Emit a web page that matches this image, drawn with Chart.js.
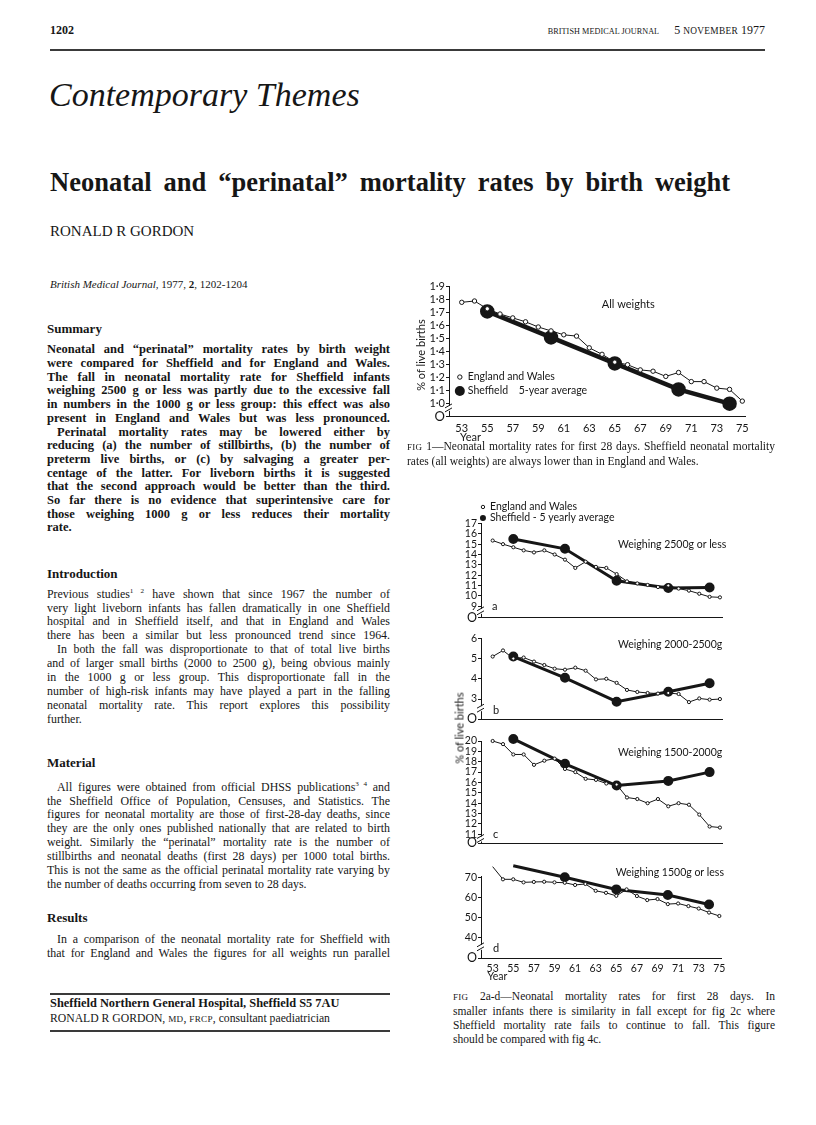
<!DOCTYPE html>
<html>
<head>
<meta charset="utf-8">
<script src="https://cdn.jsdelivr.net/npm/chart.js@4.4.0/dist/chart.umd.min.js"></script>
<style>
body{margin:0;width:816px;height:1125px;background:#fff;position:relative;overflow:hidden;
  font-family:"Liberation Serif",serif;color:#161616}
.abs{position:absolute;white-space:nowrap}
.blk{position:absolute;left:47px;width:343px}
.ln{white-space:nowrap}
.ind{padding-left:10px}
.sc{font-size:0.78em;letter-spacing:0.3px}
.rule{position:absolute;background:#3a3a3a}
canvas{position:absolute}
sup{font-size:0.6em;line-height:0}
</style>
</head>
<body>

<div class="abs" style="left:50px;top:23px;font-weight:bold;font-size:12px">1202</div>
<div class="abs" style="right:51px;top:23px;font-size:12px"><span style="font-size:8.2px;letter-spacing:0.05px">BRITISH MEDICAL JOURNAL</span><span style="display:inline-block;width:15px"></span>5 <span class="sc">NOVEMBER</span> 1977</div>
<div class="rule" style="left:50px;top:49px;width:715px;height:1.5px"></div>

<div class="abs" style="left:49px;top:75px;font-style:italic;font-size:34px;line-height:40px">Contemporary Themes</div>

<div class="blk" style="left:50px;top:167px;width:680px;font-weight:bold;font-size:26.5px;line-height:30px">
<div class="ln">Neonatal and “perinatal” mortality rates by birth weight</div>
</div>

<div class="abs" style="left:50px;top:222px;font-size:15px;line-height:18px">RONALD R GORDON</div>

<div class="abs" style="left:50px;top:277px;font-size:11px;line-height:14px"><i>British Medical Journal,</i> 1977, <b>2</b>, 1202-1204</div>

<div class="abs" style="left:47px;top:321px;font-weight:bold;font-size:13px;line-height:16px">Summary</div>
<div class="blk" style="top:343.3px;font-weight:bold;font-size:12.5px;line-height:13.7px">
<div class="ln">Neonatal and “perinatal” mortality rates by birth weight</div>
<div class="ln">were compared for Sheffield and for England and Wales.</div>
<div class="ln">The fall in neonatal mortality rate for Sheffield infants</div>
<div class="ln">weighing 2500 g or less was partly due to the excessive fall</div>
<div class="ln">in numbers in the 1000 g or less group: this effect was also</div>
<div class="ln">present in England and Wales but was less pronounced.</div>
<div class="ln ind">Perinatal mortality rates may be lowered either by</div>
<div class="ln">reducing (a) the number of stillbirths, (b) the number of</div>
<div class="ln">preterm live births, or (c) by salvaging a greater per-</div>
<div class="ln">centage of the latter. For liveborn births it is suggested</div>
<div class="ln">that the second approach would be better than the third.</div>
<div class="ln">So far there is no evidence that superintensive care for</div>
<div class="ln">those weighing 1000 g or less reduces their mortality</div>
<div class="ln e">rate.</div>
</div>

<div class="abs" style="left:47px;top:566px;font-weight:bold;font-size:13px;line-height:16px">Introduction</div>
<div class="blk" style="top:587.6px;font-size:11.9px;line-height:13.9px">
<div class="ln">Previous studies<sup>1 2</sup> have shown that since 1967 the number of</div>
<div class="ln">very light liveborn infants has fallen dramatically in one Sheffield</div>
<div class="ln">hospital and in Sheffield itself, and that in England and Wales</div>
<div class="ln">there has been a similar but less pronounced trend since 1964.</div>
<div class="ln ind">In both the fall was disproportionate to that of total live births</div>
<div class="ln">and of larger small births (2000 to 2500 g), being obvious mainly</div>
<div class="ln">in the 1000 g or less group. This disproportionate fall in the</div>
<div class="ln">number of high-risk infants may have played a part in the falling</div>
<div class="ln">neonatal mortality rate. This report explores this possibility</div>
<div class="ln e">further.</div>
</div>

<div class="abs" style="left:47px;top:755px;font-weight:bold;font-size:13px;line-height:16px">Material</div>
<div class="blk" style="top:780.6px;font-size:11.9px;line-height:13.9px">
<div class="ln ind">All figures were obtained from official DHSS publications<sup>3 4</sup> and</div>
<div class="ln">the Sheffield Office of Population, Censuses, and Statistics. The</div>
<div class="ln">figures for neonatal mortality are those of first-28-day deaths, since</div>
<div class="ln">they are the only ones published nationally that are related to birth</div>
<div class="ln">weight. Similarly the “perinatal” mortality rate is the number of</div>
<div class="ln">stillbirths and neonatal deaths (first 28 days) per 1000 total births.</div>
<div class="ln">This is not the same as the official perinatal mortality rate varying by</div>
<div class="ln e">the number of deaths occurring from seven to 28 days.</div>
</div>

<div class="abs" style="left:47px;top:910px;font-weight:bold;font-size:13px;line-height:16px">Results</div>
<div class="blk" style="top:932.6px;font-size:11.9px;line-height:13.9px">
<div class="ln ind">In a comparison of the neonatal mortality rate for Sheffield with</div>
<div class="ln">that for England and Wales the figures for all weights run parallel</div>
</div>

<div class="rule" style="left:50px;top:993px;width:340px;height:1.5px"></div>
<div class="abs" style="left:50px;top:996px;font-weight:bold;font-size:12.4px;line-height:15px">Sheffield Northern General Hospital, Sheffield S5 7AU</div>
<div class="abs" style="left:50px;top:1011px;font-size:11.7px;line-height:15px">RONALD R GORDON, <span class="sc">MD</span>, <span class="sc">FRCP</span>, consultant paediatrician</div>
<div class="rule" style="left:50px;top:1030px;width:340px;height:1.5px"></div>

<canvas id="fig1" width="355" height="170" style="left:400px;top:275px"></canvas>
<div class="blk" style="left:407px;top:438.5px;width:368px;font-size:11.5px;line-height:14px">
<div class="ln"><span class="sc">FIG</span> 1—Neonatal mortality rates for first 28 days. Sheffield neonatal mortality</div>
<div class="ln e">rates (all weights) are always lower than in England and Wales.</div>
</div>

<canvas id="figA" width="310" height="128" style="left:420px;top:498px"></canvas>
<canvas id="figB" width="310" height="102" style="left:420px;top:626px"></canvas>
<canvas id="figC" width="310" height="123" style="left:420px;top:729px"></canvas>
<canvas id="figD" width="310" height="128" style="left:420px;top:858px"></canvas>
<div class="abs" style="left:459px;top:728px;font-family:Lato,sans-serif;font-size:11px;transform:translate(-50%,-50%) rotate(-90deg)">% of live births</div>

<div class="blk" style="left:453px;top:988.5px;width:322px;font-size:11.5px;line-height:14px">
<div class="ln"><span class="sc">FIG</span> 2a-d—Neonatal mortality rates for first 28 days. In</div>
<div class="ln">smaller infants there is similarity in fall except for fig 2c where</div>
<div class="ln">Sheffield mortality rate fails to continue to fall. This figure</div>
<div class="ln e">should be compared with fig 4c.</div>
</div>

<script>
// years 1953-1975, England and Wales every year, Sheffield 5-year averages
const years = [53, 54, 55, 56, 57, 58, 59, 60, 61, 62, 63, 64, 65, 66, 67, 68, 69, 70, 71, 72, 73, 74, 75];
const shefYears = [55, 60, 65, 70, 74];
const xTickYears = [53, 55, 57, 59, 61, 63, 65, 67, 69, 71, 73, 75];

// fig 1 - all weights (% of live births)
const ewAll = [1.78, 1.79, 1.73, 1.69, 1.66, 1.63, 1.59, 1.56, 1.53, 1.52, 1.43, 1.38, 1.32, 1.30, 1.26, 1.25, 1.21, 1.24, 1.17, 1.17, 1.12, 1.11, 1.02];
const shefAll = [1.71, 1.51, 1.31, 1.11, 1.00];
const fig1Ticks = [0.9, 1.0, 1.1, 1.2, 1.3, 1.4, 1.5, 1.6, 1.7, 1.8, 1.9];
const fig1Labels = ['O', '1·0', '1·1', '1·2', '1·3', '1·4', '1·5', '1·6', '1·7', '1·8', '1·9'];

// fig 2a - 2500 g or less
const ew2500 = [15.35, 15.0, 14.7, 14.4, 14.2, 14.4, 14.0, 13.5, 12.7, 13.3, 12.8, 12.7, 12.1, 11.4, 11.2, 11.05, 10.85, 11.0, 10.7, 10.5, 10.2, 9.9, 9.85];
const shef2500 = [15.5, 14.55, 11.45, 10.75, 10.8];
const aTicks = [7.9, 9, 10, 11, 12, 13, 14, 15, 16, 17];
const aLabels = ['O', '9', '10', '11', '12', '13', '14', '15', '16', '17'];

// fig 2b - 2000-2500 g
const ew2000 = [5.1, 5.4, 5.0, 5.05, 4.85, 4.68, 4.5, 4.45, 4.55, 4.4, 3.97, 4.0, 3.8, 3.45, 3.35, 3.3, 3.27, 3.3, 3.25, 2.85, 3.03, 2.97, 3.0];
const shef2000 = [5.1, 4.05, 2.87, 3.36, 3.78];
const bTicks = [2, 3, 4, 5, 6];
const bLabels = ['O', '3', '4', '5', '6'];

// fig 2c - 1500-2000 g
const ew1500 = [20.0, 19.7, 18.7, 18.7, 17.7, 18.1, 18.3, 17.3, 17.0, 16.35, 16.25, 15.9, 15.8, 14.55, 14.4, 14.0, 14.4, 13.7, 14.0, 13.85, 12.9, 11.75, 11.65];
const shef1500 = [20.2, 17.8, 15.7, 16.15, 17.0];
const cTicks = [10.13, 11, 12, 13, 14, 15, 16, 17, 18, 19, 20];
const cLabels = ['O', '11', '12', '13', '14', '15', '16', '17', '18', '19', '20'];

// fig 2d - 1500 g or less
const ewLow = [75.3, 69, 69, 67.5, 67.7, 67.8, 67.5, 67.3, 66.2, 66.7, 63.3, 62.3, 60.8, 64, 60.7, 58.7, 59.2, 56.7, 57, 55.7, 54.5, 52.5, 50.8];
const shefLow = [75.7, 70, 64, 61.2, 56.5];
const dTicks = [29.8, 40, 50, 60, 70];
const dLabels = ['O', '40', '50', '60', '70'];

const ink = '#161616';
const sans = 'Lato, "DejaVu Sans", sans-serif';

const pts = (xs, ys) => xs.map((x, i) => ({x: x, y: ys[i]}));

// extra bits drawn on top: axis break, panel titles, letters, legends
const makeDecor = d => ({
    id: 'decor',
    afterDraw(chart) {
        const ctx = chart.ctx, xs = chart.scales.x, ys = chart.scales.y;
        const px = v => xs.getPixelForValue(v), py = v => ys.getPixelForValue(v);
        ctx.save();
        ctx.fillStyle = ink;
        ctx.strokeStyle = ink;
        ctx.textBaseline = 'middle';
        ctx.textAlign = 'left';

        // break on the y axis
        const bx = xs.left, by = py(d.brk);
        ctx.fillStyle = '#fff';
        ctx.fillRect(bx - 2, by - 3, 4, 5);
        ctx.fillStyle = ink;
        ctx.lineWidth = 1;
        ctx.beginPath();
        ctx.moveTo(bx - 4, by - 1); ctx.lineTo(bx + 3, by - 5);
        ctx.moveTo(bx - 4, by + 3); ctx.lineTo(bx + 3, by - 1);
        ctx.stroke();

        ctx.font = d.titleFont + 'px ' + sans;
        ctx.fillText(d.title[0], px(d.title[1]), py(d.title[2]));

        if (d.letter) {
            ctx.font = '11px ' + sans;
            ctx.fillText(d.letter[0], px(d.letter[1]), py(d.letter[2]));
        }
        if (d.year) {
            ctx.font = d.year[2] + 'px ' + sans;
            ctx.fillText('Year', px(d.year[0]), py(d.year[1]));
        }
        if (d.legend) {
            const L = d.legend, x = px(L.x);
            ctx.font = L.font + 'px ' + sans;
            ctx.beginPath();
            ctx.arc(x, py(L.y1), L.r1, 0, Math.PI * 2);
            ctx.fillStyle = '#fff'; ctx.fill();
            ctx.lineWidth = 1; ctx.stroke();
            ctx.fillStyle = ink;
            ctx.beginPath();
            ctx.arc(x, py(L.y2), L.r2, 0, Math.PI * 2);
            ctx.fill();
            ctx.fillText(L.t1, x + L.dx, py(L.y1));
            ctx.fillText(L.t2, x + L.dx, py(L.y2));
        }
        if (d.ytitle) {
            ctx.font = '11px ' + sans;
            ctx.textAlign = 'center';
            ctx.translate(px(d.ytitle[0]), py(d.ytitle[1]));
            ctx.rotate(-Math.PI / 2);
            ctx.fillText('% of live births', 0, 0);
        }
        ctx.restore();
    }
});

const panel = (id, c) => new Chart(document.getElementById(id), {
    type: 'line',
    data: {
        datasets: [{
            label: 'England and Wales',
            data: pts(years, c.ew),
            borderColor: ink,
            borderWidth: 1,
            pointRadius: c.ewR,
            pointBorderWidth: 1,
            pointBackgroundColor: '#fff',
            pointBorderColor: ink,
            clip: false
        }, {
            label: 'Sheffield 5-year average',
            data: pts(shefYears, c.sh),
            borderColor: ink,
            borderWidth: c.shW,
            pointRadius: c.shR,
            pointBackgroundColor: ink,
            pointBorderColor: ink,
            clip: false
        }]
    },
    options: {
        responsive: false,
        animation: false,
        devicePixelRatio: 1,
        layout: {padding: {top: c.padTop, right: c.padRight, left: 0, bottom: 0}},
        plugins: {legend: {display: false}, tooltip: {enabled: false}},
        scales: {
            x: {
                type: 'linear', min: c.xMin, max: c.xMax,
                afterBuildTicks: s => { s.ticks = xTickYears.map(v => ({value: v})); },
                ticks: {display: c.xLabels, autoSkip: false, maxRotation: 0, padding: c.xPad,
                        color: ink, font: {family: sans, size: c.xFont}},
                grid: {display: false, drawTicks: false},
                border: {color: ink, width: 1},
                afterFit: s => { s.height = c.xH; }
            },
            y: {
                min: c.yTicks[0], max: c.yMax,
                afterBuildTicks: s => { s.ticks = c.yTicks.map(v => ({value: v})); },
                ticks: {callback: (v, i) => c.yLabels[i], padding: c.yPad, color: ink, autoSkip: false,
                        font: ctx => ({family: sans, size: ctx.index === 0 ? c.yFont + 2 : c.yFont})},
                grid: {drawOnChartArea: false, drawTicks: true, tickLength: 3, color: ink},
                border: {color: ink, width: 1},
                afterFit: s => { s.width = c.yW; }
            }
        }
    },
    plugins: [makeDecor(c.decor)]
});

const fig2 = {xMin: 51.87, xMax: 75.2, padRight: 8, yW: 61, yPad: 1, yFont: 10.5,
              ewR: 1.6, shW: 3, shR: 3.5, xLabels: false, xPad: 4, xFont: 10.5};

const draw = () => {
    panel('fig1', {
        ew: ewAll, sh: shefAll, yTicks: fig1Ticks, yLabels: fig1Labels, yMax: 1.9,
        xMin: 52, xMax: 75.25, padTop: 11.7, padRight: 7, yW: 49, yPad: 1, yFont: 11,
        xH: 28.3, xLabels: true, xPad: 5, xFont: 11,
        ewR: 2.2, shW: 4.5, shR: 5,
        decor: {
            brk: 0.96, title: ['All weights', 63.98, 1.767], titleFont: 11,
            year: [52.86, 0.744, 11],
            legend: {x: 52.85, y1: 1.205, y2: 1.098, r1: 2.2, r2: 5, dx: 8, font: 10.5,
                     t1: 'England and Wales', t2: 'Sheffield    5-year average'},
            ytitle: [49.85, 1.374]
        }
    });
    panel('figA', Object.assign({}, fig2, {
        ew: ew2500, sh: shef2500, yTicks: aTicks, yLabels: aLabels, yMax: 17, padTop: 25.5, xH: 8.5,
        decor: {
            brk: 8.45, title: ['Weighing 2500g or less', 65.13, 14.92], titleFont: 10.5,
            letter: ['a', 52.94, 8.95],
            legend: {x: 52.06, y1: 18.6, y2: 17.53, r1: 1.7, r2: 3, dx: 7, font: 10.5,
                     t1: 'England and Wales', t2: 'Sheffield - 5 yearly average'}
        }
    }));
    panel('figB', Object.assign({}, fig2, {
        ew: ew2000, sh: shef2000, yTicks: bTicks, yLabels: bLabels, yMax: 6, padTop: 12.3, xH: 8.7,
        decor: {brk: 2.5, title: ['Weighing 2000-2500g', 65.13, 5.67], titleFont: 10.5,
                letter: ['b', 53.03, 2.46]}
    }));
    panel('figC', Object.assign({}, fig2, {
        ew: ew1500, sh: shef1500, yTicks: cTicks, yLabels: cLabels, yMax: 20, padTop: 12, xH: 8.7,
        decor: {brk: 10.5, title: ['Weighing 1500-2000g', 65.13, 18.84], titleFont: 10.5,
                letter: ['c', 53.03, 11.03]}
    }));
    panel('figD', Object.assign({}, fig2, {
        ew: ewLow, sh: shefLow, yTicks: dTicks, yLabels: dLabels, yMax: 70.5, padTop: 18.3, xH: 27.7,
        xLabels: true, xPad: 4.5,
        decor: {brk: 35, title: ['Weighing 1500g or less', 64.94, 72.1], titleFont: 10.5,
                letter: ['d', 53.03, 34.9], year: [52.49, 20.5, 10.5]}
    }));
};

// spread each printed line to its column width, as in the journal
const justify = () => {
    document.querySelectorAll('.blk').forEach(b => {
        const W = b.clientWidth;
        b.querySelectorAll('.ln').forEach(ln => {
            const ind = parseFloat(getComputedStyle(ln).paddingLeft) || 0;
            const sp = document.createElement('span');
            while (ln.firstChild) sp.appendChild(ln.firstChild);
            ln.appendChild(sp);
            const w = sp.getBoundingClientRect().width;
            const gaps = (ln.textContent.match(/ /g) || []).length;
            const extra = W - ind - w;
            if (ln.classList.contains('e') && extra > 0) return;
            if (!gaps) return;
            let ws = extra / gaps;
            if (ws < -1.2) {
                ln.style.letterSpacing = ((extra + 1.2 * gaps) / ln.textContent.length) + 'px';
                ws = -1.2;
            }
            ln.style.wordSpacing = ws + 'px';
        });
    });
};

document.fonts.ready.then(() => { justify(); draw(); });
</script>
</body>
</html>
